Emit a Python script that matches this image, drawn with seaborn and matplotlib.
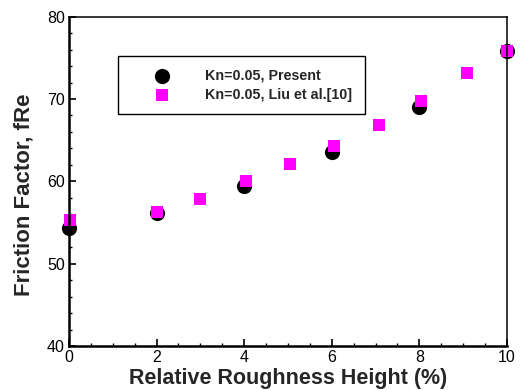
import matplotlib
matplotlib.use("Agg")
import matplotlib.pyplot as plt
from matplotlib.ticker import MultipleLocator
import seaborn as sns
import pandas as pd

# Friction factor vs relative roughness height, Kn = 0.05
present_x = [0, 2, 4, 6, 8, 10]
present_y = [54.3, 56.2, 59.4, 63.6, 69.0, 75.8]

liu_x = [0.02, 2.0, 3.0, 4.05, 5.05, 6.05, 7.08, 8.04, 9.08, 10.0]
liu_y = [55.3, 56.3, 57.8, 60.0, 62.1, 64.3, 66.8, 69.8, 73.2, 75.8]

present_label = "Kn=0.05, Present"
liu_label = "Kn=0.05, Liu et al.[10]"

sns.set_style("ticks")
plt.rcParams["font.family"] = ["Liberation Sans", "DejaVu Sans"]

fig = plt.figure(figsize=(5.21, 3.90), dpi=100)
ax = fig.add_axes([0.1324, 0.1128, 0.8406, 0.8444])

df_p = pd.DataFrame({"x": present_x, "y": present_y})
df_l = pd.DataFrame({"x": liu_x, "y": liu_y})

sns.scatterplot(data=df_p, x="x", y="y", ax=ax, marker="o", s=120,
                color="black", edgecolor="black", linewidth=0,
                label=present_label, clip_on=False, zorder=1)
sns.scatterplot(data=df_l, x="x", y="y", ax=ax, marker="s", s=75,
                color="#ff00ff", edgecolor="#ff00ff", linewidth=0,
                label=liu_label, clip_on=False, zorder=1.5)

ax.set_xlim(0, 10)
ax.set_ylim(40, 80)
ax.xaxis.set_major_locator(MultipleLocator(2))
ax.xaxis.set_minor_locator(MultipleLocator(0.5))
ax.yaxis.set_major_locator(MultipleLocator(10))
ax.yaxis.set_minor_locator(MultipleLocator(2))

ax.tick_params(which="both", direction="in", top=False, right=False,
               labelsize=11.5, colors="black", pad=3)
ax.tick_params(which="major", length=5, width=1.2)
ax.tick_params(which="minor", length=2.5, width=1.0)

for side in ["left", "bottom"]:
    ax.spines[side].set_linewidth(1.8)
for side in ["top", "right"]:
    ax.spines[side].set_linewidth(1.1)
for sp in ax.spines.values():
    sp.set_color("black")
    sp.set_zorder(3)

ax.set_xlabel("Relative Roughness Height (%)", fontsize=15.5, fontweight="bold", labelpad=2)
ax.set_ylabel("Friction Factor, fRe", fontsize=16, fontweight="bold")
ax.yaxis.set_label_coords(-0.078, 0.459)

leg = ax.legend(loc="upper left", bbox_to_anchor=(0.112, 0.882), frameon=True,
                fancybox=False, framealpha=1, edgecolor="black",
                prop={"weight": "bold", "size": 10.3}, borderpad=0.9,
                handletextpad=0.87, labelspacing=0.36, borderaxespad=0,
                handlelength=4.3, markerfirst=True)
leg.get_frame().set_linewidth(1.0)

fig.savefig("out.png", dpi=100)
